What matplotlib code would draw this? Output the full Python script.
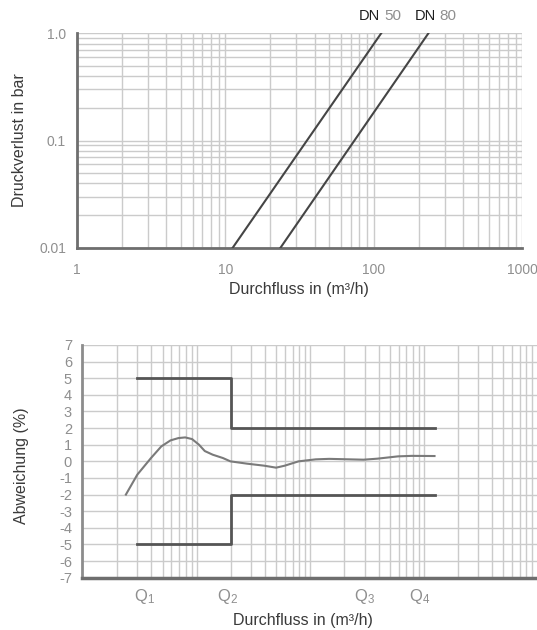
import matplotlib

matplotlib.use("Agg")
import matplotlib.pyplot as plt

plt.rcParams["font.family"] = ["Liberation Sans Narrow", "Liberation Sans", "DejaVu Sans"]
plt.rcParams["axes.unicode_minus"] = False

# --- data: pressure loss (top) ---
dn50_flow = [11.2, 112.0]
dn50_dp = [0.01, 1.0]
dn80_flow = [23.5, 233.0]
dn80_dp = [0.01, 1.0]

# --- data: error curve (bottom) ---
curve_q = [1.19, 1.5, 1.98, 2.44, 2.94, 3.45, 3.96, 4.55, 5.24, 5.89, 6.92,
           8.5, 9.9, 13.9, 19.6, 25.0, 29.8, 39.4, 55.7, 73.3, 147, 194, 296, 391, 620]
curve_err = [-2.0, -0.8, 0.2, 0.9, 1.26, 1.4, 1.44, 1.34, 1.0, 0.62, 0.4,
             0.2, 0.0, -0.14, -0.26, -0.38, -0.26, 0.0, 0.12, 0.15, 0.1, 0.16, 0.3, 0.33, 0.32]
upper_q = [1.5, 10.0, 10.0, 620.0]
upper_err = [5, 5, 2, 2]
lower_q = [1.5, 10.0, 10.0, 620.0]
lower_err = [-5, -5, -2, -2]
q_pos = [1.75, 9.3, 151.0, 462.0]
q_labels = [r"$\mathregular{Q_1}$", r"$\mathregular{Q_2}$", r"$\mathregular{Q_3}$", r"$\mathregular{Q_4}$"]

GRID = "#cbcbcb"
TICK = "#8f8f8f"
LABEL = "#3a3a3a"
SPINE = "#6e6e6e"

W, H = 537, 630
fig = plt.figure(figsize=(W / 100, H / 100), dpi=100)


def box(l, t, r, b):
    return [l / W, 1 - b / H, (r - l) / W, (b - t) / H]


# ---------- top chart ----------
ax0 = fig.add_axes(box(77, 33.3, 522.3, 247.7))
ax0.plot(dn50_flow, dn50_dp, color="#454545", lw=1.5, zorder=3)
ax0.plot(dn80_flow, dn80_dp, color="#454545", lw=1.5, zorder=3)
ax0.set_xscale("log")
ax0.set_yscale("log")
ax0.set_xlim(1, 1000)
ax0.set_ylim(0.01, 1.0)
ax0.set_xticks([1, 10, 100, 1000], ["1", "10", "100", "1000"])
ax0.set_xticks([m * 10**k for k in range(3) for m in range(2, 10)], minor=True)
ax0.set_yticks([0.01, 0.1, 1.0], ["0.01", "0.1", "1.0"])
ax0.set_yticks([m * 10.0**k for k in (-2, -1) for m in range(2, 10)], minor=True)
ax0.tick_params(which="both", length=0, colors=TICK, labelsize=10)
ax0.tick_params(axis="x", pad=11)
ax0.tick_params(axis="y", pad=8)
ax0.xaxis.set_minor_formatter(plt.NullFormatter())
ax0.yaxis.set_minor_formatter(plt.NullFormatter())
ax0.grid(True, which="both", color=GRID, lw=1.0, zorder=0)
for s in ("top", "right"):
    ax0.spines[s].set_visible(False)
for s in ("left", "bottom"):
    ax0.spines[s].set_color(SPINE)
    ax0.spines[s].set_linewidth(2.0)
ax0.set_axisbelow(True)

fig.text(299 / W, 1 - 290 / H, "Durchfluss in (m³/h)", ha="center", va="center",
         color=LABEL, fontsize=11.5)
fig.text(20 / W, 1 - 140 / H, "Druckverlust in bar", ha="center", va="center",
         rotation=90, color=LABEL, fontsize=11.5)
fig.text(359 / W, 1 - 16 / H, "DN", ha="left", va="center", color="#1e1e1e", fontsize=10.5)
fig.text(384 / W, 1 - 16 / H, "50", ha="left", va="center", color=TICK, fontsize=11)
fig.text(415 / W, 1 - 16 / H, "DN", ha="left", va="center", color="#1e1e1e", fontsize=10.5)
fig.text(439 / W, 1 - 16 / H, "80", ha="left", va="center", color=TICK, fontsize=11)

# ---------- bottom chart ----------
ax1 = fig.add_axes(box(81.7, 345, 537.5, 577.7))
ax1.plot(upper_q, upper_err, color="#555555", lw=2.0, zorder=3)
ax1.plot(lower_q, lower_err, color="#555555", lw=2.0, zorder=3)
ax1.plot(curve_q, curve_err, color="#7a7a7a", lw=1.5, zorder=3)
ax1.set_xscale("log")
ax1.set_xlim(0.486, 5000)
ax1.set_ylim(-7, 7)
ax1.set_yticks(range(-7, 8))
ax1.set_xticks(q_pos, q_labels)
ax1.set_xticks([m * 10**k for k in range(4) for m in (1, 1.5, 2, 2.5, 3, 3.5, 4, 4.5, 5)],
               minor=True)
ax1.xaxis.set_minor_formatter(plt.NullFormatter())
ax1.tick_params(which="both", length=0, colors=TICK, labelsize=10.5)
ax1.tick_params(axis="x", pad=7, labelsize=12)
ax1.tick_params(axis="y", pad=7)
ax1.grid(True, which="minor", axis="x", color=GRID, lw=1.0, zorder=0)
ax1.grid(True, which="major", axis="y", color=GRID, lw=1.0, zorder=0)
for s in ("top", "right"):
    ax1.spines[s].set_visible(False)
ax1.spines["left"].set_color("#8c8c8c")
ax1.spines["left"].set_linewidth(2.0)
ax1.spines["bottom"].set_color(SPINE)
ax1.spines["bottom"].set_linewidth(2.5)
ax1.set_axisbelow(True)

fig.text(303 / W, 1 - 620 / H, "Durchfluss in (m³/h)", ha="center", va="center",
         color=LABEL, fontsize=11.5)
fig.text(21.7 / W, 1 - 466 / H, "Abweichung (%)", ha="center", va="center",
         rotation=90, color=LABEL, fontsize=11.5)

fig.savefig("out.png", dpi=100)
